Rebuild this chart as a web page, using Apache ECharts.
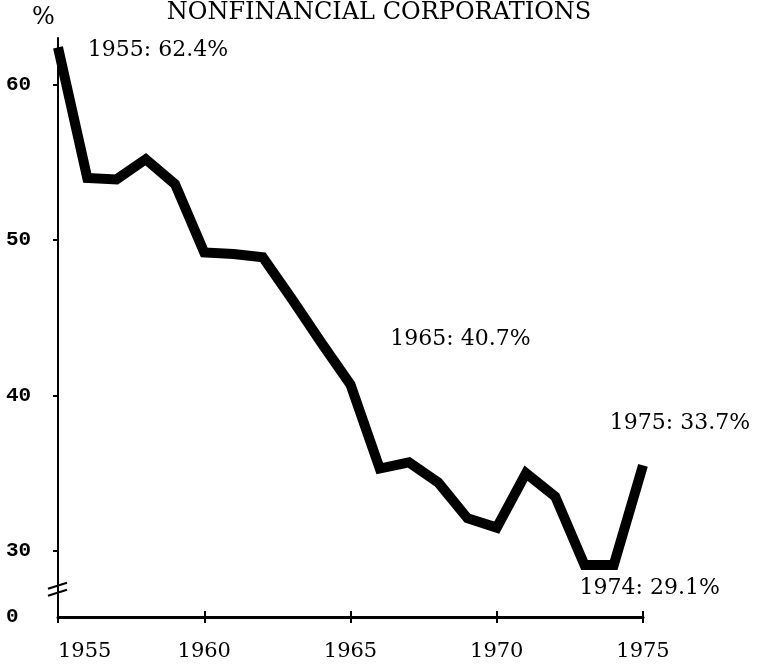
<!DOCTYPE html>
<html>
<head>
<meta charset="utf-8">
<script src="https://cdn.jsdelivr.net/npm/echarts@6/dist/echarts.min.js"></script>
<style>
  html, body { margin: 0; padding: 0; background: #fff; }
  #main { width: 758px; height: 665px; }
</style>
</head>
<body>
<div id="main"></div>
<script>
// data
var years = ['1955','1956','1957','1958','1959','1960','1961','1962','1963','1964',
             '1965','1966','1967','1968','1969','1970','1971','1972','1973','1974','1975'];
var share = [62.4, 54.0, 53.9, 55.2, 53.6, 49.2, 49.1, 48.9, 46.2, 43.4,
             40.7, 35.3, 35.7, 34.4, 32.1, 31.5, 35.0, 33.5, 29.1, 29.1, 35.5];
var yTicks = [30, 40, 50, 60];
var yBottomLabel = '0';   // broken axis: bottom is labelled 0
var notes = [
  { year: '1955', value: 62.4, text: '1955: 62.4%' },
  { year: '1965', value: 40.7, text: '1965: 40.7%' },
  { year: '1975', value: 35.5, text: '1975: 33.7%' },
  { year: '1974', value: 29.1, text: '1974: 29.1%' }
];
var title = 'NONFINANCIAL CORPORATIONS';

var yMin = 25.75, yMax = 63;
var serif = '"DejaVu Serif", serif';
var noteOffsets = { '1955': [100, 3], '1965': [110, -45], '1975': [37, -42], '1974': [36, 23] };

var dom = document.getElementById('main');
var myChart = echarts.init(dom);

var option = {
  animation: false,
  backgroundColor: '#fff',
  grid: { left: 58, right: 115, top: 38, bottom: 48 },
  xAxis: [
    {
      type: 'category',
      data: years,
      boundaryGap: false,
      axisLine: { lineStyle: { color: '#000', width: 3 } },
      axisTick: { interval: 4, length: 6, lineStyle: { color: '#000', width: 2 } },
      axisLabel: {
        interval: 4, margin: 24, color: '#000',
        fontFamily: serif, fontSize: 21,
        alignMinLabel: 'left'
      },
      splitLine: { show: false }
    },
    {
      type: 'category',
      data: years,
      boundaryGap: false,
      position: 'bottom',
      axisLine: { show: false },
      axisTick: { inside: true, interval: 4, length: 6, lineStyle: { color: '#000', width: 2 } },
      axisLabel: { show: false },
      splitLine: { show: false }
    }
  ],
  yAxis: {
    type: 'value',
    min: yMin,
    max: yMax,
    axisLine: { show: true, lineStyle: { color: '#000', width: 2 } },
    axisTick: { show: true, length: 5, customValues: yTicks, lineStyle: { color: '#000', width: 2 } },
    axisLabel: {
      customValues: [yMin].concat(yTicks),
      formatter: function (v) { return v === yMin ? yBottomLabel : String(v); },
      align: 'left', margin: 52, color: '#000',
      fontFamily: '"Liberation Mono", monospace', fontSize: 21, fontWeight: 'bold'
    },
    splitLine: { show: false }
  },
  series: [{
    type: 'line',
    data: share,
    symbol: 'none',
    lineStyle: { color: '#000', width: 10, join: 'miter', cap: 'butt' },
    markPoint: {
      symbol: 'circle',
      symbolSize: 0,
      label: { show: true, color: '#000', fontFamily: serif, fontSize: 22 },
      data: notes.map(function (n) {
        return {
          coord: [n.year, n.value],
          label: { formatter: n.text, offset: noteOffsets[n.year] }
        };
      })
    }
  }]
};

myChart.setOption(option);

// axis break mark and the small texts above the plot
var bx = myChart.convertToPixel({ xAxisIndex: 0 }, years[0]);
var by = myChart.convertToPixel({ yAxisIndex: 0 }, 27.5);
myChart.setOption({
  graphic: [
    { type: 'text', left: 'center', top: 1, style: { text: title, font: '24px ' + serif, fill: '#000' } },
    { type: 'text', x: 32, y: 6, style: { text: '%', font: '24px ' + serif, fill: '#000' } },
    { type: 'line', shape: { x1: bx - 10, y1: by - 1, x2: bx + 9, y2: by - 7 }, style: { stroke: '#000', lineWidth: 2 } },
    { type: 'line', shape: { x1: bx - 10, y1: by + 6, x2: bx + 9, y2: by } , style: { stroke: '#000', lineWidth: 2 } }
  ]
});
</script>
</body>
</html>
